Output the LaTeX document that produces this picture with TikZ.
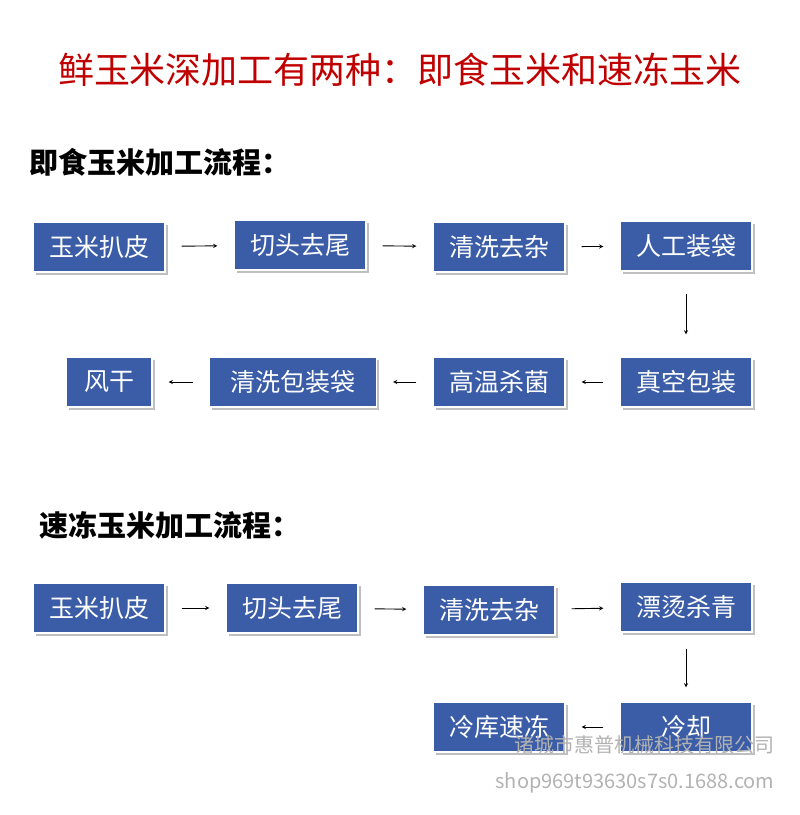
\documentclass[tikz,border=0pt]{standalone}
\usepackage{fontspec}
\newfontfamily\cjk{Noto Sans CJK SC}
\usetikzlibrary{shadows}
\definecolor{boxblue}{HTML}{3B5DA8}
\definecolor{titlered}{HTML}{C00000}
\begin{document}
\begin{tikzpicture}[x=1pt,y=-1pt,
  box/.style={draw=white,line width=1.2pt,fill=boxblue,text=white,font=\cjk\fontsize{25}{28}\selectfont,
    minimum height=50pt,minimum width=132pt,inner xsep=4pt,drop shadow={shadow xshift=2.5pt,shadow yshift=-2.5pt,opacity=0.5}},
  arr/.style={-stealth,line width=0.9pt,shorten >=16pt,shorten <=16pt},
  head/.style={anchor=west,font=\cjk\bfseries\fontsize{29}{32}\selectfont}]
\useasboundingbox (0,0) rectangle (800,815);
\node[font=\cjk\fontsize{36}{40}\selectfont,text=titlered] (title) at (400,70) {鲜玉米深加工有两种：即食玉米和速冻玉米};
\node[head] (h1) at (26,162) {即食玉米加工流程：};
\node[head] (h2) at (36,525) {速冻玉米加工流程：};
\node[box] (a1) at (99,247) {玉米扒皮};
\node[box] (a2) at (300,245) {切头去尾};
\node[box] (a3) at (499,247) {清洗去杂};
\node[box] (a4) at (686,246) {人工装袋};
\node[box] (b4) at (686,382) {真空包装};
\node[box] (b3) at (499,382) {高温杀菌};
\node[box,minimum width=167pt] (b2) at (293,382) {清洗包装袋};
\node[box,minimum width=86pt] (b1) at (109,382) {风干};
\draw[arr] (a1) -- (a2); \draw[arr] (a2) -- (a3); \draw[arr] (a3) -- (a4);
\draw[arr,shorten <=22pt,shorten >=22pt] (a4) -- (b4);
\draw[arr] (b4) -- (b3); \draw[arr] (b3) -- (b2); \draw[arr] (b2) -- (b1);
\node[box] (c1) at (99,608) {玉米扒皮};
\node[box] (c2) at (292,608) {切头去尾};
\node[box] (c3) at (489,610) {清洗去杂};
\node[box] (c4) at (686,607) {漂烫杀青};
\node[box] (d2) at (686,727) {冷却};
\node[box] (d1) at (499,727) {冷库速冻};
\draw[arr] (c1) -- (c2); \draw[arr] (c2) -- (c3); \draw[arr] (c3) -- (c4);
\draw[arr,shorten <=16pt,shorten >=14pt] (c4) -- (d2);
\draw[arr] (d2) -- (d1);
\node[anchor=east,text=gray!60,font=\cjk\fontsize{20}{22}\selectfont] (w1) at (778,745) {诸城市惠普机械科技有限公司};
\node[anchor=east,text=gray!60,font=\cjk\fontsize{20}{22}\selectfont] (w2) at (778,783) {shop969t93630s7s0.1688.com};
\end{tikzpicture}
\end{document}
